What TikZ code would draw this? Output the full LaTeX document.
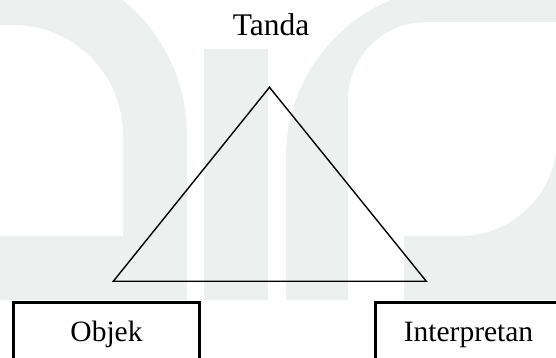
\documentclass[tikz,border=0pt]{standalone}
\usepackage{fontspec}
\setmainfont{Liberation Serif}
\definecolor{wm}{RGB}{236,241,239}
\begin{document}
\begin{tikzpicture}[x=1pt,y=1pt,
  wmark/.style={fill=wm, draw=none, even odd rule},
  tri/.style={draw=black, line width=1.4pt, line join=miter},
  boxnode/.style={draw=black, line width=3pt, rectangle, inner sep=0pt,
    font=\fontsize{29.5}{30}\selectfont, text height=12.3pt, text depth=0pt},
  titlenode/.style={inner sep=0pt, anchor=base, font=\fontsize{31.5}{32}\selectfont}]
\useasboundingbox (0,0) rectangle (556,358);
\clip (0,0) rectangle (556,358);
% faint watermark
\fill[wmark] (-5,58) -- (-5,397) -- (13,397) arc[start angle=90, end angle=0, radius=174] -- (187,58) -- cycle
  (-5,122) -- (-5,333) -- (13,333) arc[start angle=90, end angle=0, radius=110] -- (123,122) -- cycle;
\fill[wmark] (204,58) rectangle (268,309);
\fill[wmark] (286,58) -- (286,201) arc[start angle=180, end angle=90, radius=170] -- (570,371) -- (570,58) -- cycle
  (348,58) -- (348,258) arc[start angle=180, end angle=90, radius=78] -- (570,336) -- (570,219) -- (557,219)
  arc[start angle=0, end angle=-90, radius=97] -- (404,122) -- (404,58) -- cycle;
% diagram
\node[titlenode] (tanda) at (271,322) {Tanda};
\coordinate (apex) at (269.5,270.7);
\coordinate (bl) at (113.3,76.7);
\coordinate (br) at (426.3,76.7);
\draw[tri] (apex) -- (bl) -- (br) -- cycle;
\node[boxnode, minimum width=186pt, minimum height=65.3pt] (objek) at (106.5,22.65) {Objek};
\node[boxnode, minimum width=185.6pt, minimum height=65.3pt] (interpretan) at (468.5,22.65) {Interpretan};
\end{tikzpicture}
\end{document}
